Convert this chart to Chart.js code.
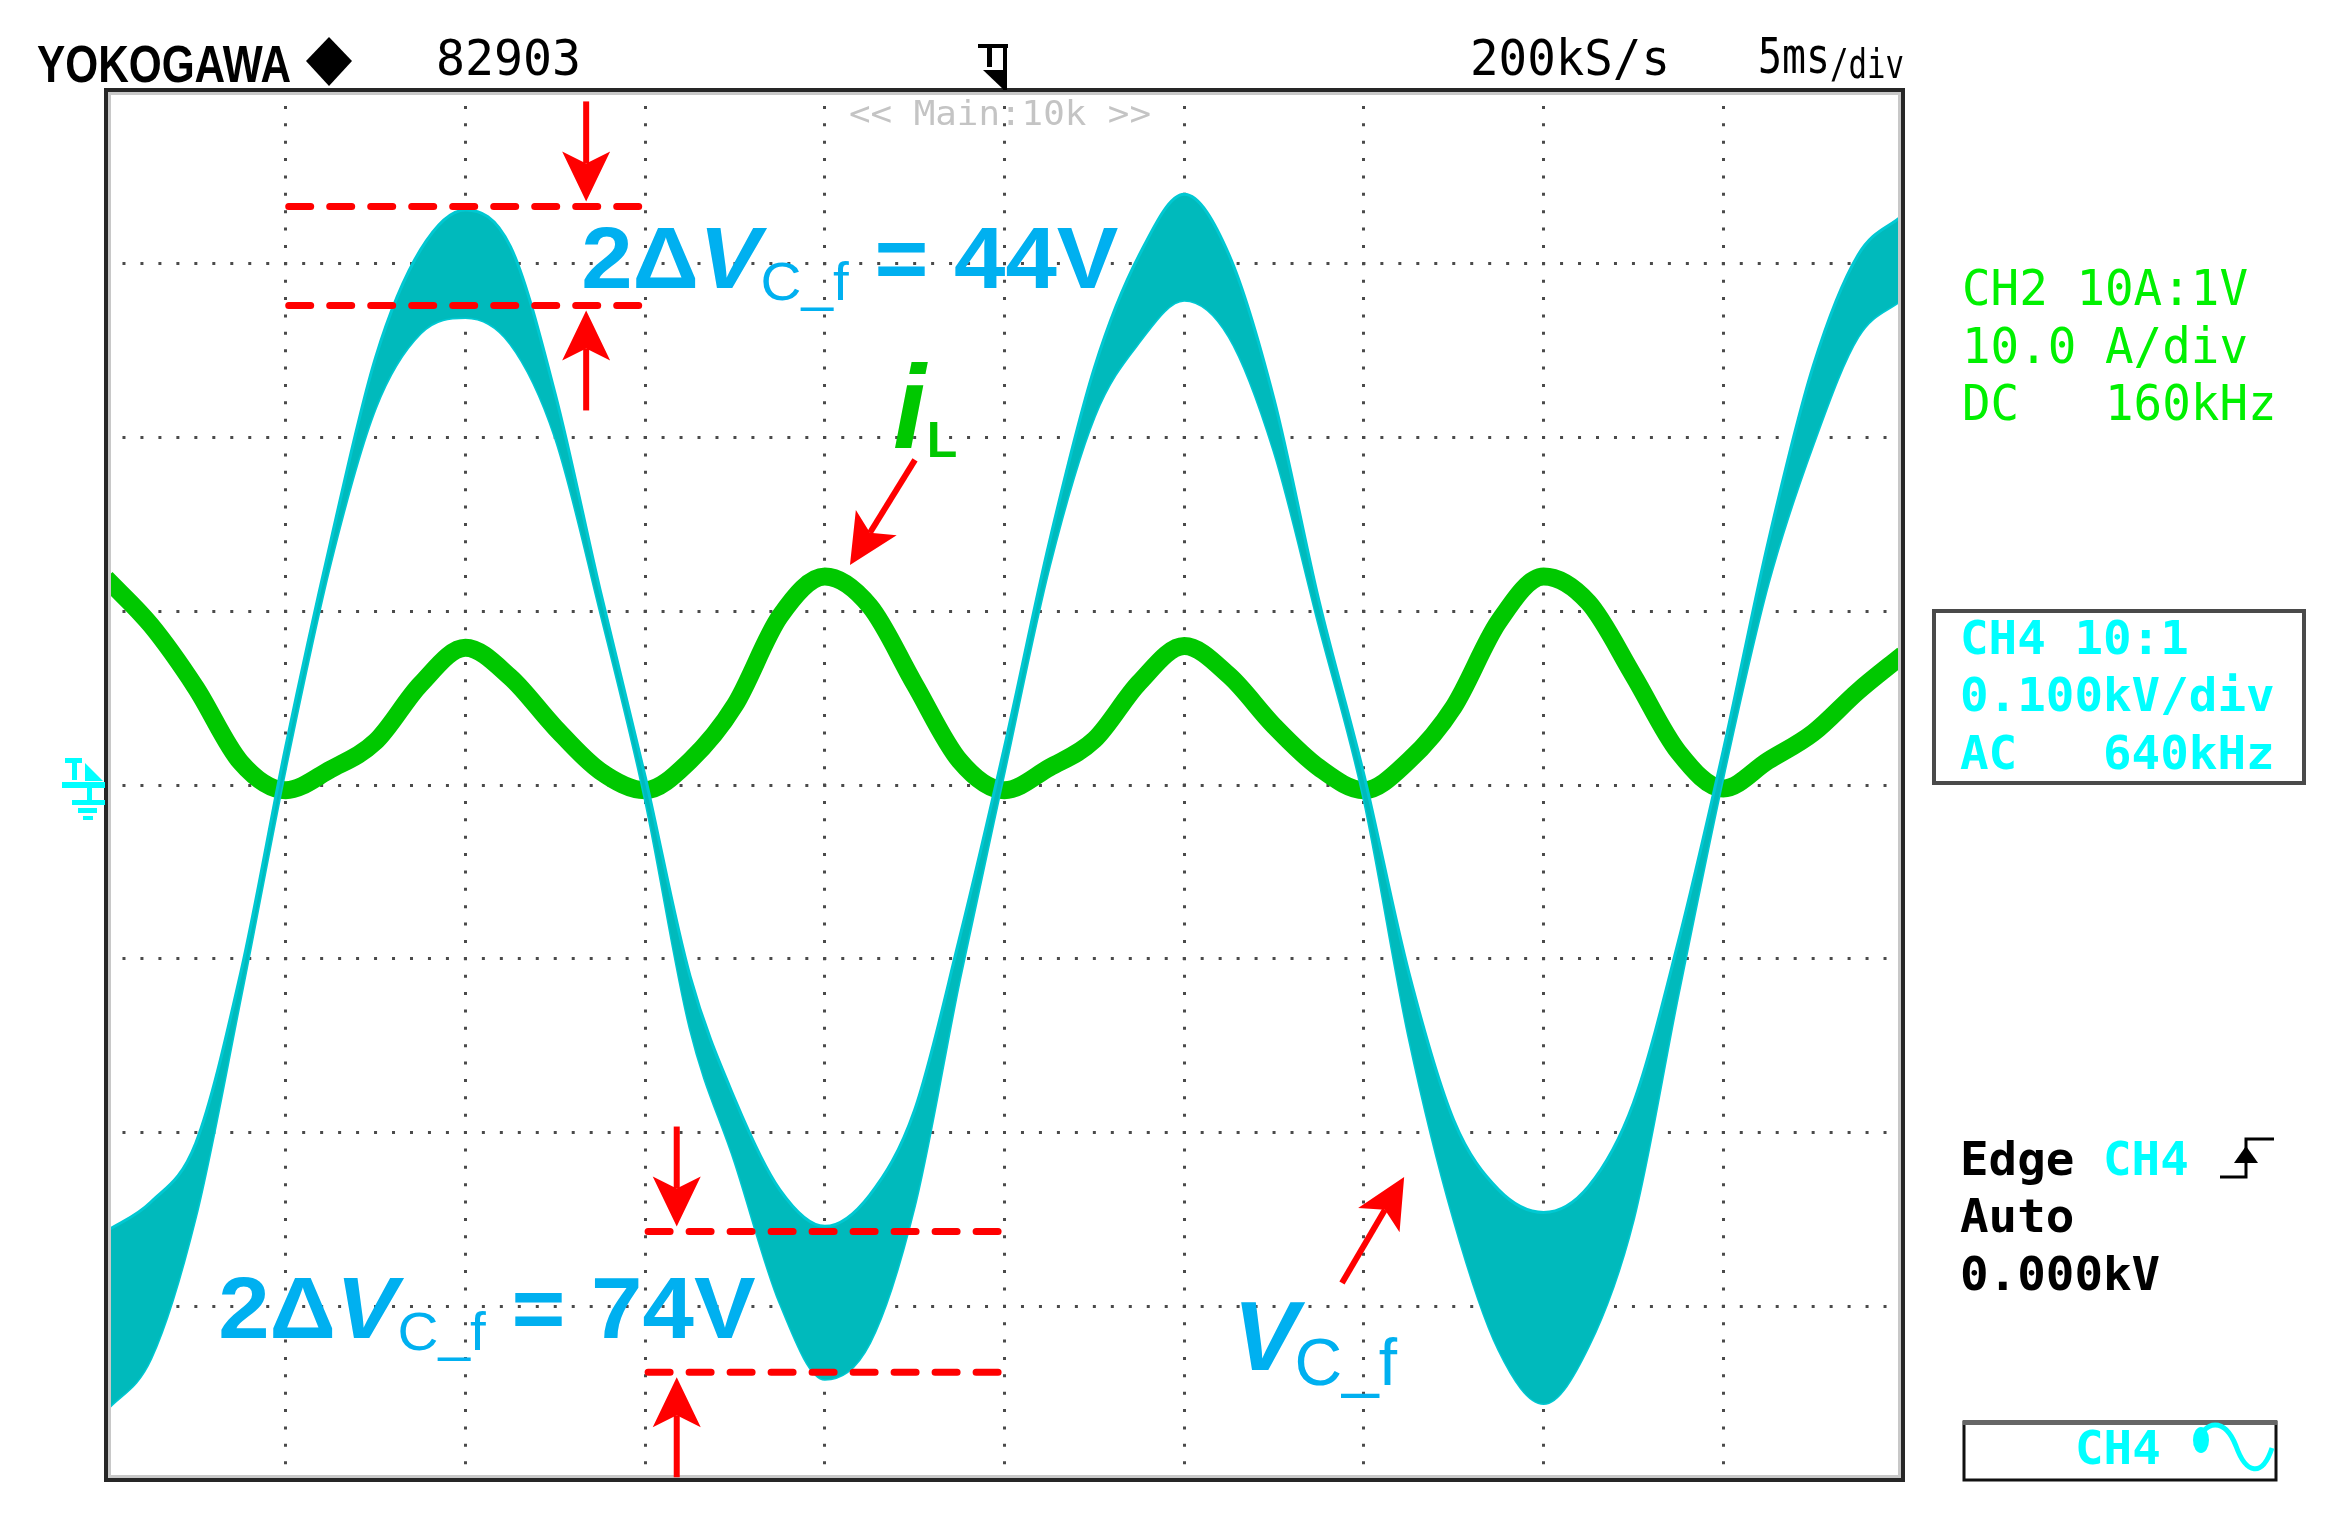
<!DOCTYPE html>
<html>
<head>
<meta charset="utf-8">
<title>Filter capacitor voltage and inductor current</title>
<script src="https://cdn.jsdelivr.net/npm/chart.js@4.4.1/dist/chart.umd.min.js"></script>
<style>
  html, body { margin: 0; padding: 0; background: #ffffff; }
  #wrap { width: 2344px; height: 1532px; }
</style>
</head>
<body>
<div id="wrap"><canvas id="scope" width="2344" height="1532"></canvas></div>
<script>
// sample times, ms (5 ms/div, 10 div on screen)
const timeMs = [0, 1.25, 2.5, 3.75, 5, 6.25, 7.5, 8.75, 10, 11.25, 12.5, 13.75, 15, 16.25, 17.5, 18.75, 20,
  21.25, 22.5, 23.75, 25, 26.25, 27.5, 28.75, 30, 31.25, 32.5, 33.75, 35, 36.25, 37.5, 38.75, 40,
  41.25, 42.5, 43.75, 45, 46.25, 47.5, 48.75, 50];

// CH4 : V_C_f, upper and lower edge of the ripple band (V)
const vcUpper = [-257, -240, -206, -108, 22, 140, 246, 308, 331, 310, 225, 112, 5, -110, -181, -233, -254,
  -236, -187, -88, 22, 140, 240, 305, 340, 305, 222, 106, 6, -108, -193, -233, -246,
  -231, -183, -90, 20, 140, 241, 305, 328];
const vcLower = [-360, -330, -248, -122, 10, 128, 217, 260, 269, 254, 200, 100, -8, -140, -217, -298, -342,
  -321, -242, -112, 8, 126, 212, 255, 279, 258, 192, 92, -8, -145, -250, -325, -356,
  -323, -250, -120, 5, 116, 196, 258, 280];

// CH2 : i_L (A)
const iL = [11.9, 9.2, 5.6, 1.3, -0.3, 0.9, 2.5, 5.8, 7.9, 6.2, 3.3, 0.8, -0.3, 1.4, 4.6, 9.7, 12.0,
  10.3, 5.8, 1.4, -0.3, 1.0, 2.6, 5.9, 8.0, 6.3, 3.4, 1.0, -0.3, 1.4, 4.5, 9.4, 12.0,
  10.5, 6.3, 1.9, -0.2, 1.4, 3.0, 5.4, 7.5];

// ripple markings: voltage levels of the dashed lines and where the text sits
const rippleMarks = [
  { text: '44V', vHigh: 333, vLow: 276, tFrom: 5, tTo: 15, arrowT: 13.36, labelT: 13.22, labelV: 286 },
  { text: '74V', vHigh: -257, vLow: -338, tFrom: 15, tTo: 25, arrowT: 15.88, labelT: 3.12, labelV: -318 }
];

const CYAN_FILL = 'rgb(0,186,188)';
const CYAN_LINE = 'rgb(0,200,210)';
const TRACE_GREEN = 'rgb(0,200,0)';
const NOTE_BLUE = '#00b0f0';
const NOTE_RED = '#ff0000';
const MONO = '"DejaVu Sans Mono", "Liberation Mono", monospace';
const SANS = '"Liberation Sans", Arial, sans-serif';
const PITCH = 28.6;

// draw text squeezed/stretched to an exact width
function textAt(ctx, text, x, y, font, color, width) {
  ctx.save();
  ctx.font = font;
  ctx.fillStyle = color;
  ctx.textBaseline = 'alphabetic';
  ctx.textAlign = 'left';
  const w = ctx.measureText(text).width;
  ctx.translate(x, y);
  if (width) ctx.scale(width / w, 1);
  ctx.fillText(text, 0, 0);
  ctx.restore();
}

function monoText(ctx, text, x, y, font, color) {
  textAt(ctx, text, x, y, font, color, text.length * PITCH);
}

// pieces drawn one after another: {t, font, dy, gap}
function richText(ctx, parts, x, y, color, sx) {
  ctx.save();
  ctx.fillStyle = color;
  ctx.textBaseline = 'alphabetic';
  ctx.translate(x, y);
  ctx.scale(sx || 1, 1);
  let cx = 0;
  parts.forEach(p => {
    ctx.font = p.font;
    ctx.fillText(p.t, cx, p.dy || 0);
    cx += ctx.measureText(p.t).width + (p.gap || 0);
  });
  ctx.restore();
}

function drawArrow(ctx, x1, y1, x2, y2) {
  const len = 50, half = 24, notch = 12;
  const a = Math.atan2(y2 - y1, x2 - x1);
  const ux = Math.cos(a), uy = Math.sin(a);
  const bx = x2 - ux * len, by = y2 - uy * len;
  ctx.beginPath();
  ctx.moveTo(x1, y1);
  ctx.lineTo(bx + ux * notch, by + uy * notch);
  ctx.stroke();
  ctx.beginPath();
  ctx.moveTo(x2, y2);
  ctx.lineTo(bx - uy * half, by + ux * half);
  ctx.lineTo(bx + ux * notch, by + uy * notch);
  ctx.lineTo(bx + uy * half, by - ux * half);
  ctx.closePath();
  ctx.fill();
}

const scopeOverlay = {
  id: 'scopeOverlay',

  beforeDatasetsDraw(chart) {
    const ctx = chart.ctx;
    textAt(ctx, '<< Main:10k >>', 849, 125, '34px ' + MONO, '#c4c4c4', 302);
  },

  afterDraw(chart) {
    const ctx = chart.ctx;
    const a = chart.chartArea;
    const xs = chart.scales.x, ys = chart.scales.y;
    const X = t => xs.getPixelForValue(t);
    const Y = v => ys.getPixelForValue(v);

    // screen frame
    ctx.save();
    ctx.strokeStyle = '#c8c8c8';
    ctx.lineWidth = 3;
    ctx.strokeRect(a.left + 3.5, a.top + 3.5, a.width - 7, a.height - 7);
    ctx.strokeStyle = '#262626';
    ctx.lineWidth = 4;
    ctx.strokeRect(a.left, a.top, a.width, a.height);
    ctx.restore();

    // CH4 ground marker
    const g = Math.round(Y(0));
    ctx.save();
    ctx.fillStyle = '#00ffff';
    ctx.fillRect(65, g - 27, 17, 5);
    ctx.fillRect(72, g - 22, 5, 17);
    ctx.beginPath();
    ctx.moveTo(85, g - 22); ctx.lineTo(103, g - 4); ctx.lineTo(85, g - 4);
    ctx.closePath(); ctx.fill();
    ctx.fillRect(62, g - 3, 43, 6);
    ctx.fillRect(87, g + 3, 5, 12);
    ctx.fillRect(72, g + 15, 33, 5);
    ctx.fillRect(78, g + 23, 19, 5);
    ctx.fillRect(83, g + 31, 10, 4);
    ctx.restore();

    // trigger position marker
    const tx = Math.round(X(25));
    ctx.save();
    ctx.fillStyle = '#000';
    ctx.fillRect(tx - 27, 44, 30, 4);
    ctx.fillRect(tx - 2, 44, 4, 46);
    ctx.fillRect(tx - 18, 48, 5, 19);
    ctx.beginPath();
    ctx.moveTo(tx - 22, 70); ctx.lineTo(tx, 70); ctx.lineTo(tx - 1, 90);
    ctx.closePath(); ctx.fill();
    ctx.restore();

    // header
    textAt(ctx, 'YOKOGAWA', 37, 82, 'bold 52px "Liberation Sans Narrow", ' + SANS, '#000', 254);
    ctx.save();
    ctx.fillStyle = '#000';
    ctx.beginPath();
    ctx.moveTo(329, 37); ctx.lineTo(352, 61); ctx.lineTo(329, 86); ctx.lineTo(306, 61);
    ctx.closePath(); ctx.fill();
    ctx.restore();
    textAt(ctx, '82903', 436, 75, '50px ' + MONO, '#000', 145);
    textAt(ctx, '200kS/s', 1470, 75, '50px ' + MONO, '#000', 200);
    textAt(ctx, '5ms', 1758, 73, '50px ' + MONO, '#000', 72);
    textAt(ctx, '/div', 1830, 78, '40px ' + MONO, '#000', 74);

    // CH2 settings
    const green = '#00f000';
    monoText(ctx, 'CH2 10A:1V', 1962, 305, '50px ' + MONO, green);
    monoText(ctx, '10.0 A/div', 1962, 363, '50px ' + MONO, green);
    monoText(ctx, 'DC   160kHz', 1962, 420, '50px ' + MONO, green);

    // CH4 settings box
    ctx.save();
    ctx.strokeStyle = '#4a4a4a';
    ctx.lineWidth = 4;
    ctx.strokeRect(1934, 611, 370, 172);
    ctx.restore();
    const bold = 'bold 47px ' + MONO;
    monoText(ctx, 'CH4 10:1', 1960, 654, bold, '#00ffff');
    monoText(ctx, '0.100kV/div', 1960, 711, bold, '#00ffff');
    monoText(ctx, 'AC   640kHz', 1960, 769, bold, '#00ffff');

    // trigger settings
    monoText(ctx, 'Edge', 1960, 1175, bold, '#000');
    monoText(ctx, 'CH4', 1960 + 5 * PITCH, 1175, bold, '#00ffff');
    monoText(ctx, 'Auto', 1960, 1232, bold, '#000');
    monoText(ctx, '0.000kV', 1960, 1290, bold, '#000');
    ctx.save();
    ctx.strokeStyle = '#000';
    ctx.fillStyle = '#000';
    ctx.lineWidth = 3;
    ctx.beginPath();
    ctx.moveTo(2220, 1177); ctx.lineTo(2246, 1177); ctx.lineTo(2246, 1139); ctx.lineTo(2274, 1139);
    ctx.stroke();
    ctx.beginPath();
    ctx.moveTo(2246, 1146); ctx.lineTo(2258, 1163); ctx.lineTo(2234, 1163);
    ctx.closePath(); ctx.fill();
    ctx.restore();

    // bottom channel box
    ctx.save();
    ctx.strokeStyle = '#111';
    ctx.lineWidth = 3;
    ctx.strokeRect(1964, 1422, 312, 58);
    ctx.fillStyle = '#666';
    ctx.fillRect(1963, 1420, 314, 5);
    ctx.restore();
    monoText(ctx, 'CH4', 2075, 1464, bold, '#00ffff');
    ctx.save();
    ctx.strokeStyle = '#00ffff';
    ctx.fillStyle = '#00ffff';
    ctx.lineWidth = 5;
    ctx.beginPath();
    ctx.moveTo(2196, 1446);
    ctx.bezierCurveTo(2205, 1418, 2225, 1418, 2236, 1446);
    ctx.bezierCurveTo(2246, 1474, 2262, 1478, 2272, 1448);
    ctx.stroke();
    ctx.beginPath();
    ctx.ellipse(2201, 1440, 8, 13, 0, 0, Math.PI * 2);
    ctx.fill();
    ctx.restore();

    // ripple markings
    ctx.save();
    ctx.strokeStyle = NOTE_RED;
    ctx.fillStyle = NOTE_RED;
    rippleMarks.forEach(m => {
      const x1 = X(m.tFrom), x2 = X(m.tTo);
      const yh = Y(m.vHigh), yl = Y(m.vLow);
      ctx.save();
      ctx.lineWidth = 7;
      ctx.lineCap = 'round';
      ctx.setLineDash([22, 19]);
      [yh, yl].forEach(yy => {
        ctx.beginPath(); ctx.moveTo(x1 + 3, yy); ctx.lineTo(x2, yy); ctx.stroke();
      });
      ctx.restore();
      ctx.lineWidth = 6;
      const ax = X(m.arrowT);
      drawArrow(ctx, ax, yh - 105, ax, yh - 5);
      drawArrow(ctx, ax, Math.min(yl + 105, a.bottom - 2), ax, yl + 5);
    });
    drawArrow(ctx, X(22.51), Y(187.1), X(20.70), Y(126.6));
    drawArrow(ctx, X(34.39), Y(-286.6), X(36.12), Y(-225.6));
    ctx.restore();

    rippleMarks.forEach(m => {
      richText(ctx, [
        { t: '2\u0394', font: 'bold 88px ' + SANS },
        { t: 'V', font: 'italic bold 88px ' + SANS },
        { t: 'C_f', font: '54px ' + SANS, dy: 12 },
        { t: ' = ' + m.text, font: 'bold 88px ' + SANS }
      ], X(m.labelT), Y(m.labelV), NOTE_BLUE, 1.05);
    });

    richText(ctx, [
      { t: 'V', font: 'italic bold 98px ' + SANS, gap: -4 },
      { t: 'C_f', font: '66px ' + SANS, dy: 15 }
    ], X(31.36), Y(-336.7), NOTE_BLUE);

    richText(ctx, [
      { t: 'i', font: 'italic bold 118px ' + SANS, gap: 1 },
      { t: 'L', font: 'bold 50px ' + SANS, dy: 9 }
    ], X(21.9), Y(193.9), '#00c800');
  }
};

const pts = arr => arr.map((v, i) => ({ x: timeMs[i], y: v }));

const chart = new Chart(document.getElementById('scope').getContext('2d'), {
  type: 'line',
  data: {
    datasets: [
      {
        label: 'V_C_f upper',
        data: pts(vcUpper),
        borderColor: CYAN_LINE,
        backgroundColor: CYAN_FILL,
        borderWidth: 3,
        fill: '+1',
        yAxisID: 'y',
        clip: 0
      },
      {
        label: 'V_C_f lower',
        data: pts(vcLower),
        borderColor: CYAN_LINE,
        borderWidth: 3,
        fill: false,
        yAxisID: 'y',
        clip: 0
      },
      {
        label: 'i_L',
        data: pts(iL),
        borderColor: TRACE_GREEN,
        borderWidth: 18,
        fill: false,
        yAxisID: 'yI',
        clip: 0
      }
    ]
  },
  options: {
    responsive: false,
    animation: false,
    devicePixelRatio: 1,
    events: [],
    layout: { padding: { left: 106, top: 90, right: 441, bottom: 52 } },
    elements: {
      point: { radius: 0 },
      line: { cubicInterpolationMode: 'monotone', borderJoinStyle: 'round' }
    },
    plugins: {
      legend: { display: false },
      tooltip: { enabled: false },
      title: { display: false }
    },
    scales: {
      x: {
        type: 'linear',
        min: 0,
        max: 50,
        ticks: { display: false, stepSize: 5 },
        grid: { color: '#4a4a4a', lineWidth: 3, drawTicks: false },
        border: { display: false, dash: [3, 14.375], dashOffset: 1.5 }
      },
      y: {
        type: 'linear',
        min: -400,
        max: 400,
        ticks: { display: false, stepSize: 100 },
        grid: { color: '#4a4a4a', lineWidth: 3, drawTicks: false },
        border: { display: false, dash: [3, 14.97], dashOffset: 1.5 }
      },
      yI: {
        type: 'linear',
        min: -40,
        max: 40,
        display: false
      }
    }
  },
  plugins: [scopeOverlay]
});
</script>
</body>
</html>
